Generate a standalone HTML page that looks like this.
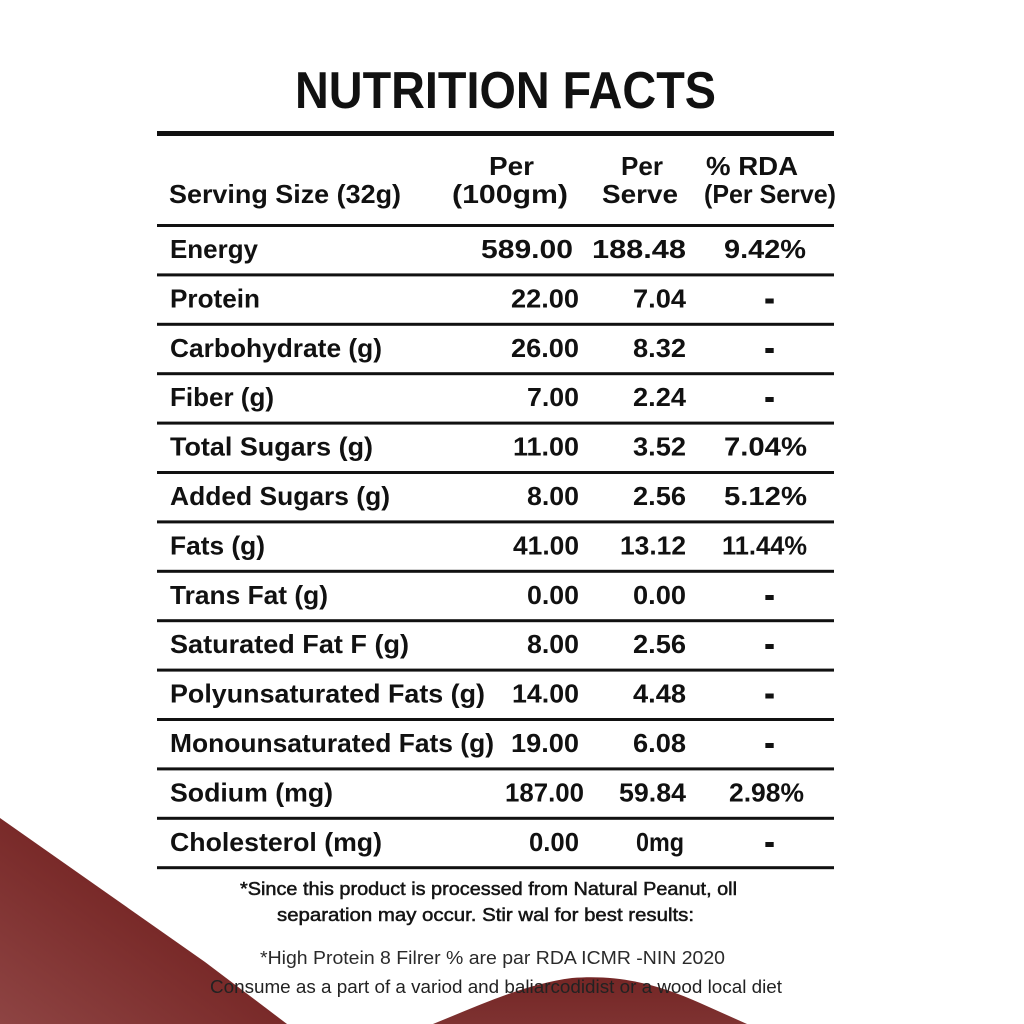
<!DOCTYPE html>
<html>
<head>
<meta charset="utf-8">
<style>
  html, body { margin:0; padding:0; background:#fff; }
  svg { display:block; }
  .t { font-family:"Liberation Sans", Arial, sans-serif; font-weight:bold; fill:#111; }
  .f { font-family:"Liberation Sans", Arial, sans-serif; }
</style>
</head>
<body>
<svg width="1024" height="1024" viewBox="0 0 1024 1024" xmlns="http://www.w3.org/2000/svg">
  <defs>
    <linearGradient id="gl" x1="0" y1="1" x2="1" y2="0">
      <stop offset="0" stop-color="#8e4443"/>
      <stop offset="0.5" stop-color="#792a29"/>
      <stop offset="1" stop-color="#6b1f1f"/>
    </linearGradient>
    <linearGradient id="gm" x1="0" y1="0" x2="0" y2="1">
      <stop offset="0" stop-color="#742625"/>
      <stop offset="1" stop-color="#7e3231"/>
    </linearGradient>
  </defs>
  <rect width="1024" height="1024" fill="#fff"/>

  <!-- maroon decorative shapes -->
  <path d="M0,818 L205,962 Q250,996 287,1024 L0,1024 Z" fill="url(#gl)"/>
  <path d="M433,1024 C480,1005 525,984 572,978 C622,974 662,986 700,1003 L747,1024 Z" fill="url(#gm)"/>

  <!-- title -->
  <text class="t" x="295" y="108" font-size="52" textLength="421" lengthAdjust="spacingAndGlyphs">NUTRITION FACTS</text>

  <!-- lines -->
  <rect x="157" y="131" width="677" height="5" fill="#111"/>
  <rect x="157" y="224" width="677" height="3" fill="#111"/>
  <g fill="#111">
    <rect x="157" y="273.4" width="677" height="3"/>
    <rect x="157" y="322.8" width="677" height="3"/>
    <rect x="157" y="372.2" width="677" height="3"/>
    <rect x="157" y="421.6" width="677" height="3"/>
    <rect x="157" y="471" width="677" height="3"/>
    <rect x="157" y="520.4" width="677" height="3"/>
    <rect x="157" y="569.8" width="677" height="3"/>
    <rect x="157" y="619.2" width="677" height="3"/>
    <rect x="157" y="668.6" width="677" height="3"/>
    <rect x="157" y="718" width="677" height="3"/>
    <rect x="157" y="767.4" width="677" height="3"/>
    <rect x="157" y="816.8" width="677" height="3"/>
    <rect x="157" y="866.2" width="677" height="3"/>
  </g>

  <!-- header -->
  <g class="t" font-size="26">
    <text x="169" y="203" textLength="232" lengthAdjust="spacingAndGlyphs">Serving Size (32g)</text>
    <text x="489" y="175" textLength="45" lengthAdjust="spacingAndGlyphs">Per</text>
    <text x="452" y="203" textLength="116" lengthAdjust="spacingAndGlyphs">(100gm)</text>
    <text x="621" y="175" textLength="42" lengthAdjust="spacingAndGlyphs">Per</text>
    <text x="602" y="203" textLength="76" lengthAdjust="spacingAndGlyphs">Serve</text>
    <text x="706" y="175" textLength="92" lengthAdjust="spacingAndGlyphs">% RDA</text>
    <text x="704" y="203" textLength="132" lengthAdjust="spacingAndGlyphs">(Per Serve)</text>
  </g>

  <!-- rows -->
  <g class="t" font-size="26">
    <!-- labels -->
    <text x="170" y="258" textLength="88" lengthAdjust="spacingAndGlyphs">Energy</text>
    <text x="170" y="307.4" textLength="90" lengthAdjust="spacingAndGlyphs">Protein</text>
    <text x="170" y="356.8" textLength="212" lengthAdjust="spacingAndGlyphs">Carbohydrate (g)</text>
    <text x="170" y="406.2" textLength="104" lengthAdjust="spacingAndGlyphs">Fiber (g)</text>
    <text x="170" y="455.6" textLength="203" lengthAdjust="spacingAndGlyphs">Total Sugars  (g)</text>
    <text x="170" y="505" textLength="220" lengthAdjust="spacingAndGlyphs">Added Sugars (g)</text>
    <text x="170" y="554.4" textLength="95" lengthAdjust="spacingAndGlyphs">Fats (g)</text>
    <text x="170" y="603.8" textLength="158" lengthAdjust="spacingAndGlyphs">Trans Fat (g)</text>
    <text x="170" y="653.2" textLength="239" lengthAdjust="spacingAndGlyphs">Saturated Fat F  (g)</text>
    <text x="170" y="702.6" textLength="315" lengthAdjust="spacingAndGlyphs">Polyunsaturated Fats (g)</text>
    <text x="170" y="752" textLength="324" lengthAdjust="spacingAndGlyphs">Monounsaturated Fats (g)</text>
    <text x="170" y="801.4" textLength="163" lengthAdjust="spacingAndGlyphs">Sodium (mg)</text>
    <text x="170" y="850.8" textLength="212" lengthAdjust="spacingAndGlyphs">Cholesterol (mg)</text>

    <!-- per 100gm -->
    <text x="481" y="258" textLength="92" lengthAdjust="spacingAndGlyphs">589.00</text>
    <text x="511" y="307.4" textLength="68" lengthAdjust="spacingAndGlyphs">22.00</text>
    <text x="511" y="356.8" textLength="68" lengthAdjust="spacingAndGlyphs">26.00</text>
    <text x="527" y="406.2" textLength="52" lengthAdjust="spacingAndGlyphs">7.00</text>
    <text x="513" y="455.6" textLength="66" lengthAdjust="spacingAndGlyphs">11.00</text>
    <text x="527" y="505" textLength="52" lengthAdjust="spacingAndGlyphs">8.00</text>
    <text x="513" y="554.4" textLength="66" lengthAdjust="spacingAndGlyphs">41.00</text>
    <text x="527" y="603.8" textLength="52" lengthAdjust="spacingAndGlyphs">0.00</text>
    <text x="527" y="653.2" textLength="52" lengthAdjust="spacingAndGlyphs">8.00</text>
    <text x="512" y="702.6" textLength="67" lengthAdjust="spacingAndGlyphs">14.00</text>
    <text x="511" y="752" textLength="68" lengthAdjust="spacingAndGlyphs">19.00</text>
    <text x="505" y="801.4" textLength="79" lengthAdjust="spacingAndGlyphs">187.00</text>
    <text x="529" y="850.8" textLength="50" lengthAdjust="spacingAndGlyphs">0.00</text>

    <!-- per serve -->
    <text x="592" y="258" textLength="94" lengthAdjust="spacingAndGlyphs">188.48</text>
    <text x="633" y="307.4" textLength="53" lengthAdjust="spacingAndGlyphs">7.04</text>
    <text x="633" y="356.8" textLength="53" lengthAdjust="spacingAndGlyphs">8.32</text>
    <text x="633" y="406.2" textLength="53" lengthAdjust="spacingAndGlyphs">2.24</text>
    <text x="633" y="455.6" textLength="53" lengthAdjust="spacingAndGlyphs">3.52</text>
    <text x="633" y="505" textLength="53" lengthAdjust="spacingAndGlyphs">2.56</text>
    <text x="620" y="554.4" textLength="66" lengthAdjust="spacingAndGlyphs">13.12</text>
    <text x="633" y="603.8" textLength="53" lengthAdjust="spacingAndGlyphs">0.00</text>
    <text x="633" y="653.2" textLength="53" lengthAdjust="spacingAndGlyphs">2.56</text>
    <text x="633" y="702.6" textLength="53" lengthAdjust="spacingAndGlyphs">4.48</text>
    <text x="633" y="752" textLength="53" lengthAdjust="spacingAndGlyphs">6.08</text>
    <text x="619" y="801.4" textLength="67" lengthAdjust="spacingAndGlyphs">59.84</text>
    <text x="636" y="850.8" textLength="48" lengthAdjust="spacingAndGlyphs">0mg</text>

    <!-- RDA -->
    <text x="724" y="258" textLength="82" lengthAdjust="spacingAndGlyphs">9.42%</text>
    <text x="724" y="455.6" textLength="83" lengthAdjust="spacingAndGlyphs">7.04%</text>
    <text x="724" y="505" textLength="83" lengthAdjust="spacingAndGlyphs">5.12%</text>
    <text x="722" y="554.4" textLength="85" lengthAdjust="spacingAndGlyphs">11.44%</text>
    <text x="729" y="801.4" textLength="75" lengthAdjust="spacingAndGlyphs">2.98%</text>
  </g>
  <g class="t" font-size="25" text-anchor="middle" stroke="#111" stroke-width="2">
    <text x="769.5" y="307.4">-</text>
    <text x="769.5" y="356.8">-</text>
    <text x="769.5" y="406.2">-</text>
    <text x="769.5" y="603.8">-</text>
    <text x="769.5" y="653.2">-</text>
    <text x="769.5" y="702.6">-</text>
    <text x="769.5" y="752">-</text>
    <text x="769.5" y="850.8">-</text>
  </g>

  <!-- footnotes -->
  <g class="f" font-size="18">
    <text x="240" y="895" fill="#151515" stroke="#151515" stroke-width="0.5" textLength="497" lengthAdjust="spacingAndGlyphs">*Since this product is processed from Natural Peanut, oll</text>
    <text x="277" y="921" fill="#151515" stroke="#151515" stroke-width="0.5" textLength="417" lengthAdjust="spacingAndGlyphs">separation may occur. Stir wal for best results:</text>
    <text x="260" y="964" fill="#2a2a2a" textLength="465" lengthAdjust="spacingAndGlyphs">*High Protein 8 Filrer % are par RDA  ICMR  -NIN 2020</text>
    <text x="210" y="993" fill="#222" textLength="572" lengthAdjust="spacingAndGlyphs">Consume as a part of a variod and baliarcodidist or a wood local diet</text>
  </g>
</svg>
</body>
</html>
